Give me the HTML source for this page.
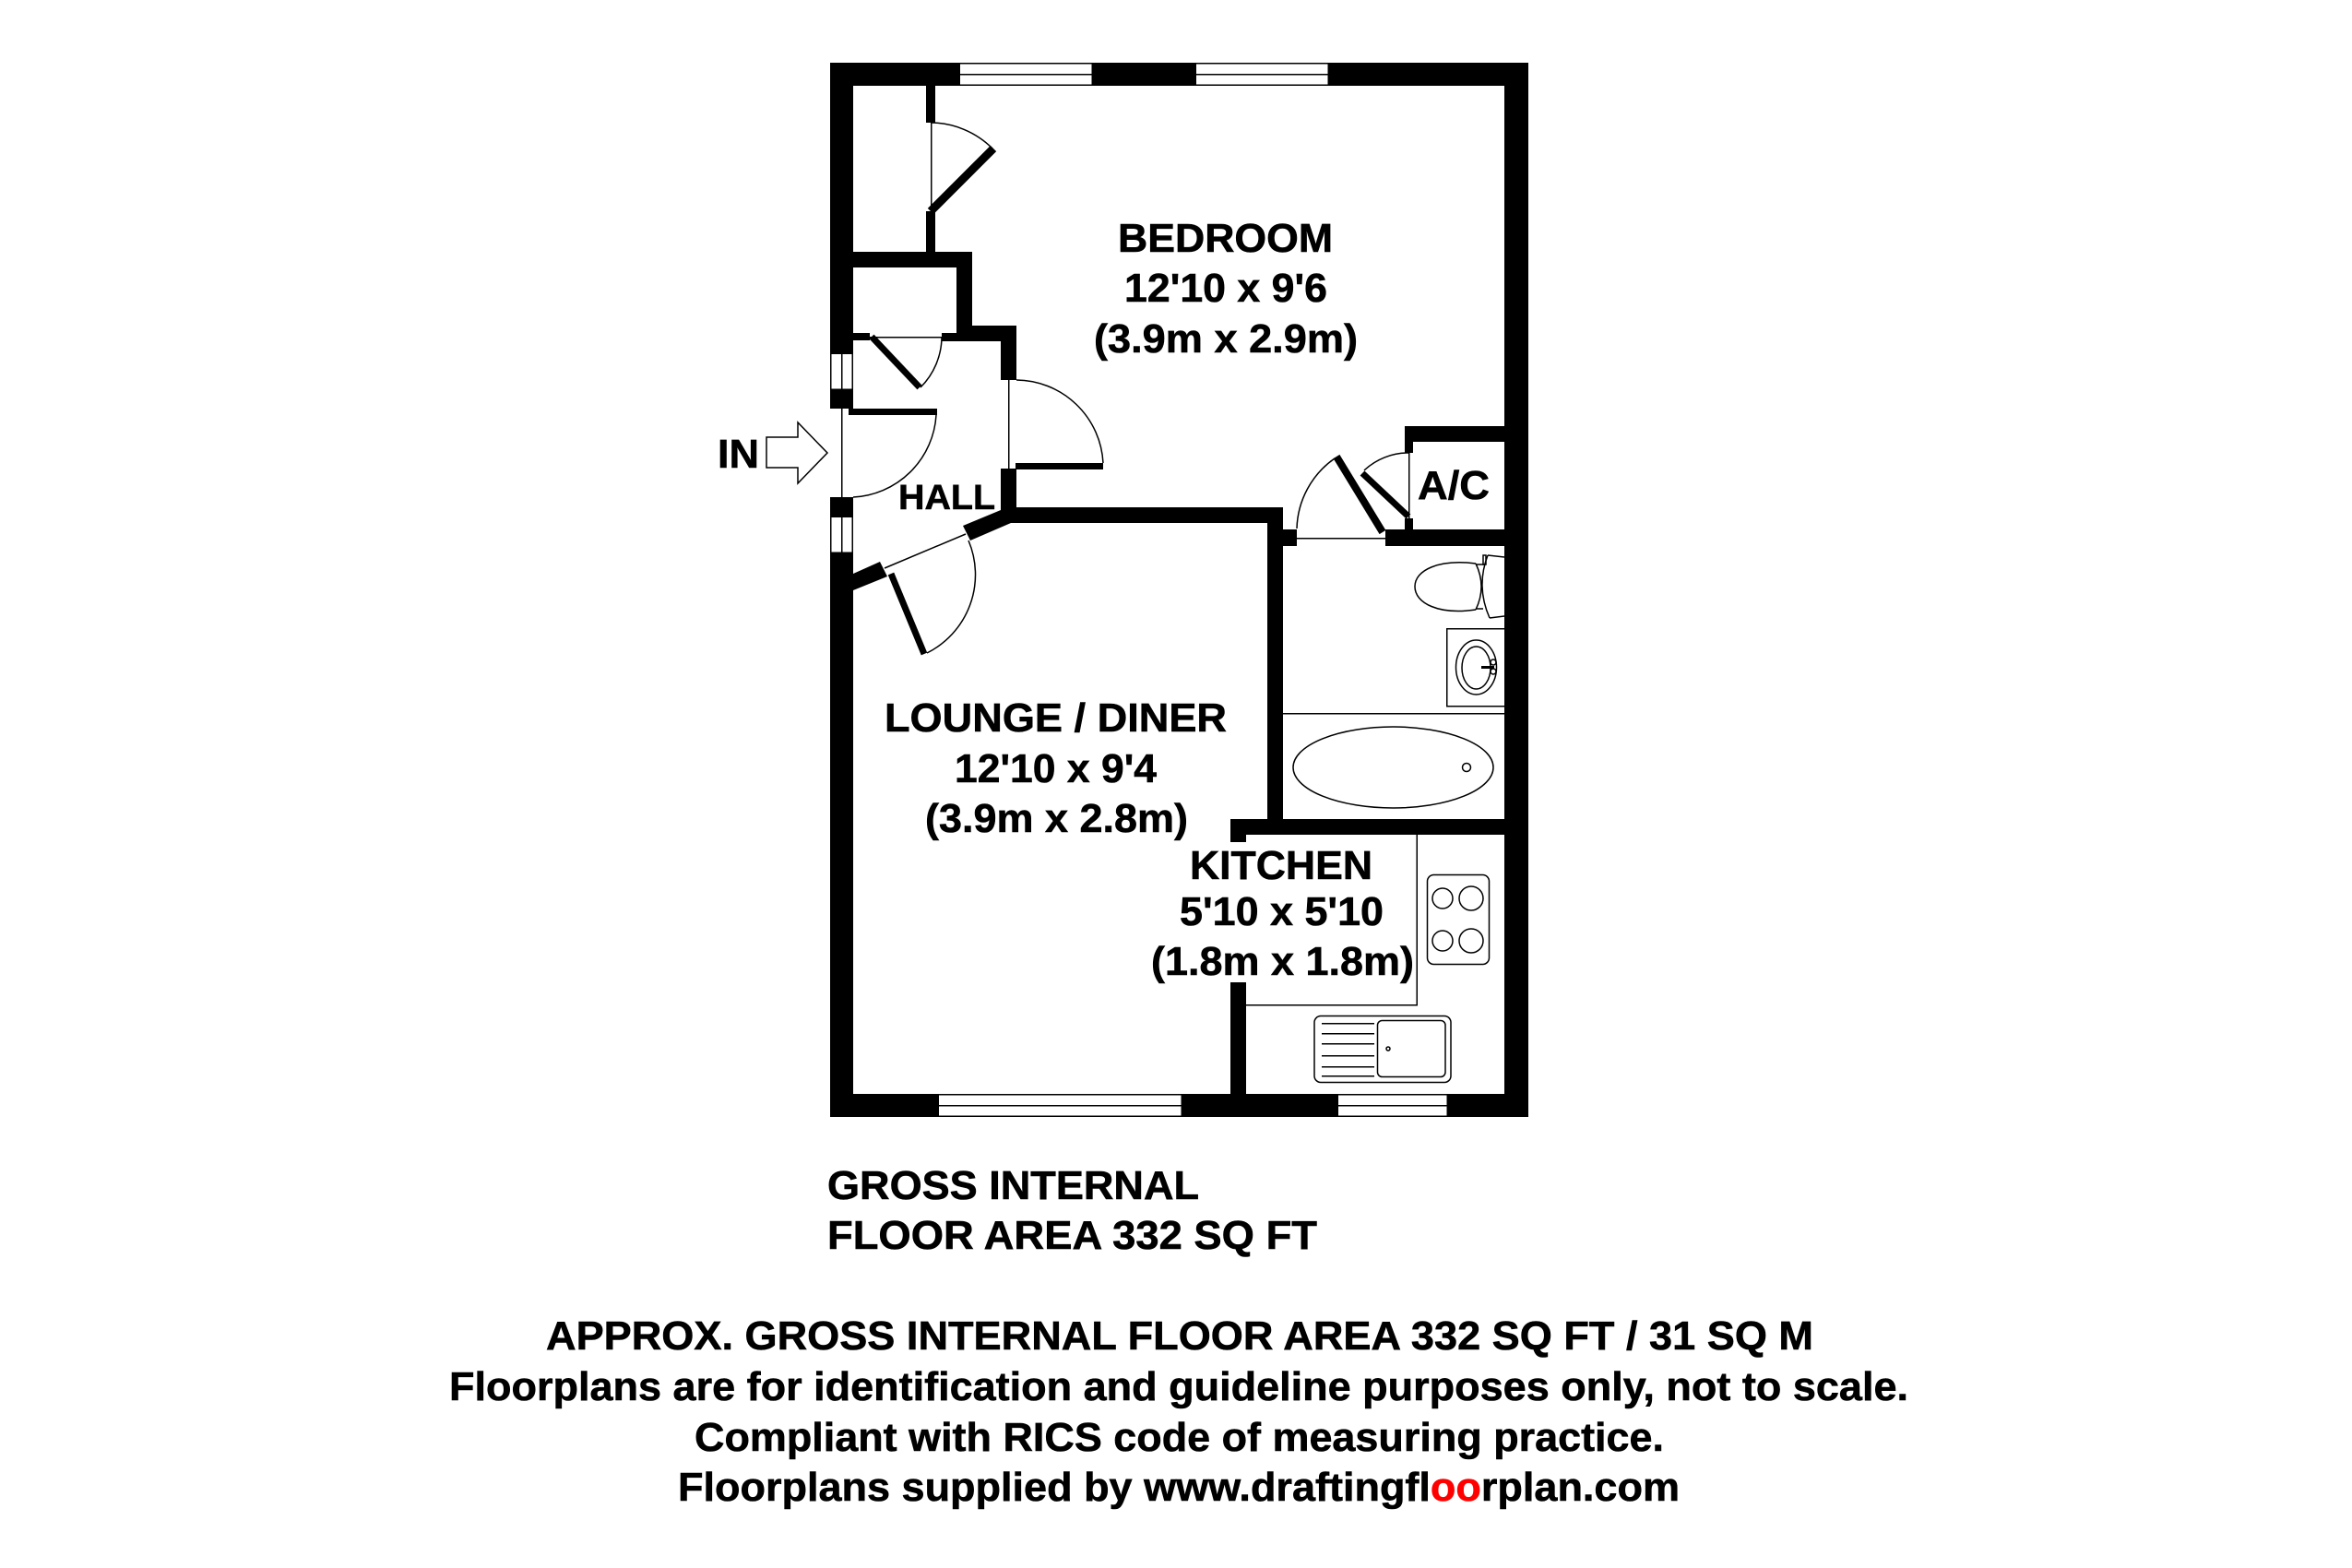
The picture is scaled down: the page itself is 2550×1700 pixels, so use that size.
<!DOCTYPE html>
<html><head><meta charset="utf-8"><style>
html,body{margin:0;padding:0;background:#fff;width:2550px;height:1700px;overflow:hidden}
svg{display:block}
text{font-family:"Liberation Sans",Arial,sans-serif;font-weight:bold;font-size:44px;fill:#000;stroke:#000;stroke-width:.6}
.t{fill:none;stroke:#000;stroke-width:1.5}
.c{shape-rendering:crispEdges}
</style></head><body>
<svg width="2550" height="1700" viewBox="0 0 2550 1700" xmlns="http://www.w3.org/2000/svg">
<rect width="2550" height="1700" fill="#fff"/>
<g class="c" fill="#000">
<!-- outer walls -->
<rect x="900" y="68" width="757" height="25"/>
<rect x="900" y="1186" width="757" height="25"/>
<rect x="900" y="68" width="25" height="375"/>
<rect x="900" y="539" width="25" height="672"/>
<rect x="1631" y="68" width="26" height="1143"/>
<!-- closet -->
<rect x="1004" y="93" width="10" height="40"/>
<rect x="1004" y="229" width="10" height="44"/>
<rect x="925" y="273" width="129" height="17"/>
<rect x="1037" y="273" width="17" height="97"/>
<rect x="1037" y="353" width="65" height="17"/>
<rect x="1085" y="353" width="17" height="59"/>
<rect x="1021" y="361" width="33" height="9"/>
<rect x="925" y="361" width="18" height="8"/>
<rect x="1085" y="508" width="17" height="45"/>
<!-- lounge / bedroom -->
<rect x="1085" y="550" width="306" height="17"/>
<rect x="1374" y="550" width="17" height="350"/>
<rect x="1374" y="574" width="32" height="18"/>
<rect x="1502" y="574" width="129" height="18"/>
<rect x="1523" y="462" width="108" height="17"/>
<rect x="1523" y="462" width="9" height="29"/>
<rect x="1523" y="562" width="9" height="20"/>
<rect x="1334" y="888" width="297" height="17"/>
<rect x="1334" y="888" width="17" height="25"/>
<rect x="1334" y="1065" width="17" height="121"/>
</g>
<!-- angled walls -->
<polygon points="1085,553 1044,570 1052,586 1096,567" fill="#000"/>
<polygon points="925,622 954,609 962,625 925,640" fill="#000"/>
<!-- windows -->
<g>
<g fill="#fff" stroke="#000" stroke-width="1.5" class="c">
<rect x="1040" y="68.7" width="144" height="23.6"/>
<rect x="1296" y="68.7" width="144" height="23.6"/>
<rect x="1017" y="1186.7" width="264" height="23.6"/>
<rect x="1450" y="1186.7" width="119" height="23.6"/>
<rect x="900.7" y="383" width="23.6" height="39"/>
<rect x="900.7" y="560" width="23.6" height="39"/>
</g>
<g class="t c">
<path d="M1040 80.5H1184M1296 80.5H1440M1017 1198.5H1281M1450 1198.5H1569M912.5 383V422M912.5 560V599"/>
</g>
</g>
<!-- door thresholds -->
<g class="t">
<path class="c" d="M1009.5 133V229M943 365.5H1021M912.5 443V539M1093.5 412V508M1527.5 491V562M1406 583.5H1502"/>
<path d="M959 616L1047 579"/>
<!-- arcs -->
<path d="M1009 133A96 96 0 0 1 1076 161"/>
<path d="M1021 365A78 78 0 0 1 998 420"/>
<path d="M1015 450A95 95 0 0 1 925 539"/>
<path d="M1102 412A95 95 0 0 1 1196 502"/>
<path d="M1050 586A95 95 0 0 1 1005 708"/>
<path d="M1527 491A70 70 0 0 0 1479 510"/>
<path d="M1406 573A96 96 0 0 1 1447 497"/>
</g>
<!-- door leaves -->
<g stroke="#000" fill="none">
<path d="M1009 229L1077 161" stroke-width="9"/>
<path d="M945 365L997 420" stroke-width="7"/>
<path d="M1499 577L1449 495" stroke-width="8"/>
<path d="M1527 560L1477 513" stroke-width="7"/>
<path d="M966 622L1002 709" stroke-width="7"/>
</g>
<g class="c" fill="#000">
<rect x="920" y="443" width="96" height="7"/>
<rect x="1101" y="502" width="95" height="7"/>
</g>
<!-- arrow -->
<polygon class="t" points="831,474 865,474 865,458 897,491 865,524 865,507 831,507"/>
<!-- toilet -->
<g class="t">
<path d="M1600 611C1560 606 1534 618 1534 636C1534 654 1560 667 1600 661"/>
<path d="M1600 611Q1612 636 1600 661"/>
<path d="M1613 602Q1600 636 1615 670"/>
<path d="M1613 602L1631 604M1615 670L1631 668"/>
<path d="M1600 612H1610M1600 660H1608"/>
<rect x="1608" y="602" width="3" height="10"/>
</g>
<!-- basin -->
<g class="t">
<path class="c" d="M1631 681.500H1568.500V765.500H1631"/>
<ellipse cx="1600.500" cy="723.500" rx="22" ry="29.500"/>
<ellipse cx="1600.500" cy="724" rx="15.500" ry="23"/>
<circle cx="1619" cy="718" r="3"/>
<circle cx="1619" cy="728" r="3"/>
<path d="M1606 723.500H1620" stroke-width="3"/>
</g>
<!-- bath -->
<g class="t">
<path class="c" d="M1391 773.500H1631"/>
<ellipse cx="1510.500" cy="832" rx="108.500" ry="44"/>
<circle cx="1590" cy="832" r="4.500"/>
</g>
<!-- kitchen -->
<g class="t">
<path class="c" d="M1536 905V1089.500H1351"/>
<rect x="1547.500" y="948.500" width="67" height="97" rx="7"/>
<circle cx="1564" cy="974" r="11"/>
<circle cx="1595" cy="974" r="13"/>
<circle cx="1564" cy="1020" r="11"/>
<circle cx="1595" cy="1020" r="13"/>
<rect x="1425" y="1101.500" width="148" height="72" rx="7"/>
<rect x="1493.500" y="1106.500" width="73.500" height="61" rx="5"/>
<path class="c" d="M1433 1109.500H1490M1433 1120.500H1490M1433 1131.500H1490M1433 1144.500H1490M1433 1156.500H1490M1433 1166.500H1490"/>
<circle cx="1505" cy="1137" r="2"/>
</g>
<!-- labels -->
<text x="778" y="507" textLength="45" lengthAdjust="spacingAndGlyphs">IN</text>
<text x="974" y="552" textLength="105" lengthAdjust="spacingAndGlyphs" style="font-size:38px">HALL</text>
<text x="1537" y="541" textLength="78" lengthAdjust="spacingAndGlyphs">A/C</text>
<text x="1212" y="273" textLength="233" lengthAdjust="spacingAndGlyphs">BEDROOM</text>
<text x="1219" y="327" textLength="220" lengthAdjust="spacingAndGlyphs">12'10 x 9'6</text>
<text x="1186" y="382" textLength="286" lengthAdjust="spacingAndGlyphs">(3.9m x 2.9m)</text>
<text x="959" y="793" textLength="371" lengthAdjust="spacingAndGlyphs">LOUNGE / DINER</text>
<text x="1035" y="848" textLength="219" lengthAdjust="spacingAndGlyphs">12'10 x 9'4</text>
<text x="1003" y="902" textLength="285" lengthAdjust="spacingAndGlyphs">(3.9m x 2.8m)</text>
<text x="1290" y="953" textLength="198" lengthAdjust="spacingAndGlyphs">KITCHEN</text>
<text x="1279" y="1003" textLength="221" lengthAdjust="spacingAndGlyphs">5'10 x 5'10</text>
<text x="1248" y="1057" textLength="285" lengthAdjust="spacingAndGlyphs">(1.8m x 1.8m)</text>
<text x="897" y="1300" textLength="403" lengthAdjust="spacingAndGlyphs">GROSS INTERNAL</text>
<text x="897" y="1354" textLength="531" lengthAdjust="spacingAndGlyphs">FLOOR AREA 332 SQ FT</text>
<text x="592" y="1463" textLength="1374" lengthAdjust="spacingAndGlyphs">APPROX. GROSS INTERNAL FLOOR AREA 332 SQ FT / 31 SQ M</text>
<text x="487" y="1518" textLength="1582" lengthAdjust="spacingAndGlyphs">Floorplans are for identification and guideline purposes only, not to scale.</text>
<text x="753" y="1573" textLength="1051" lengthAdjust="spacingAndGlyphs">Compliant with RICS code of measuring practice.</text>
<text x="735" y="1627" textLength="1086" lengthAdjust="spacingAndGlyphs">Floorplans supplied by www.draftingfl<tspan fill="#ff0000" stroke="#ff0000">oo</tspan>rplan.com</text>
</svg>
</body></html>
